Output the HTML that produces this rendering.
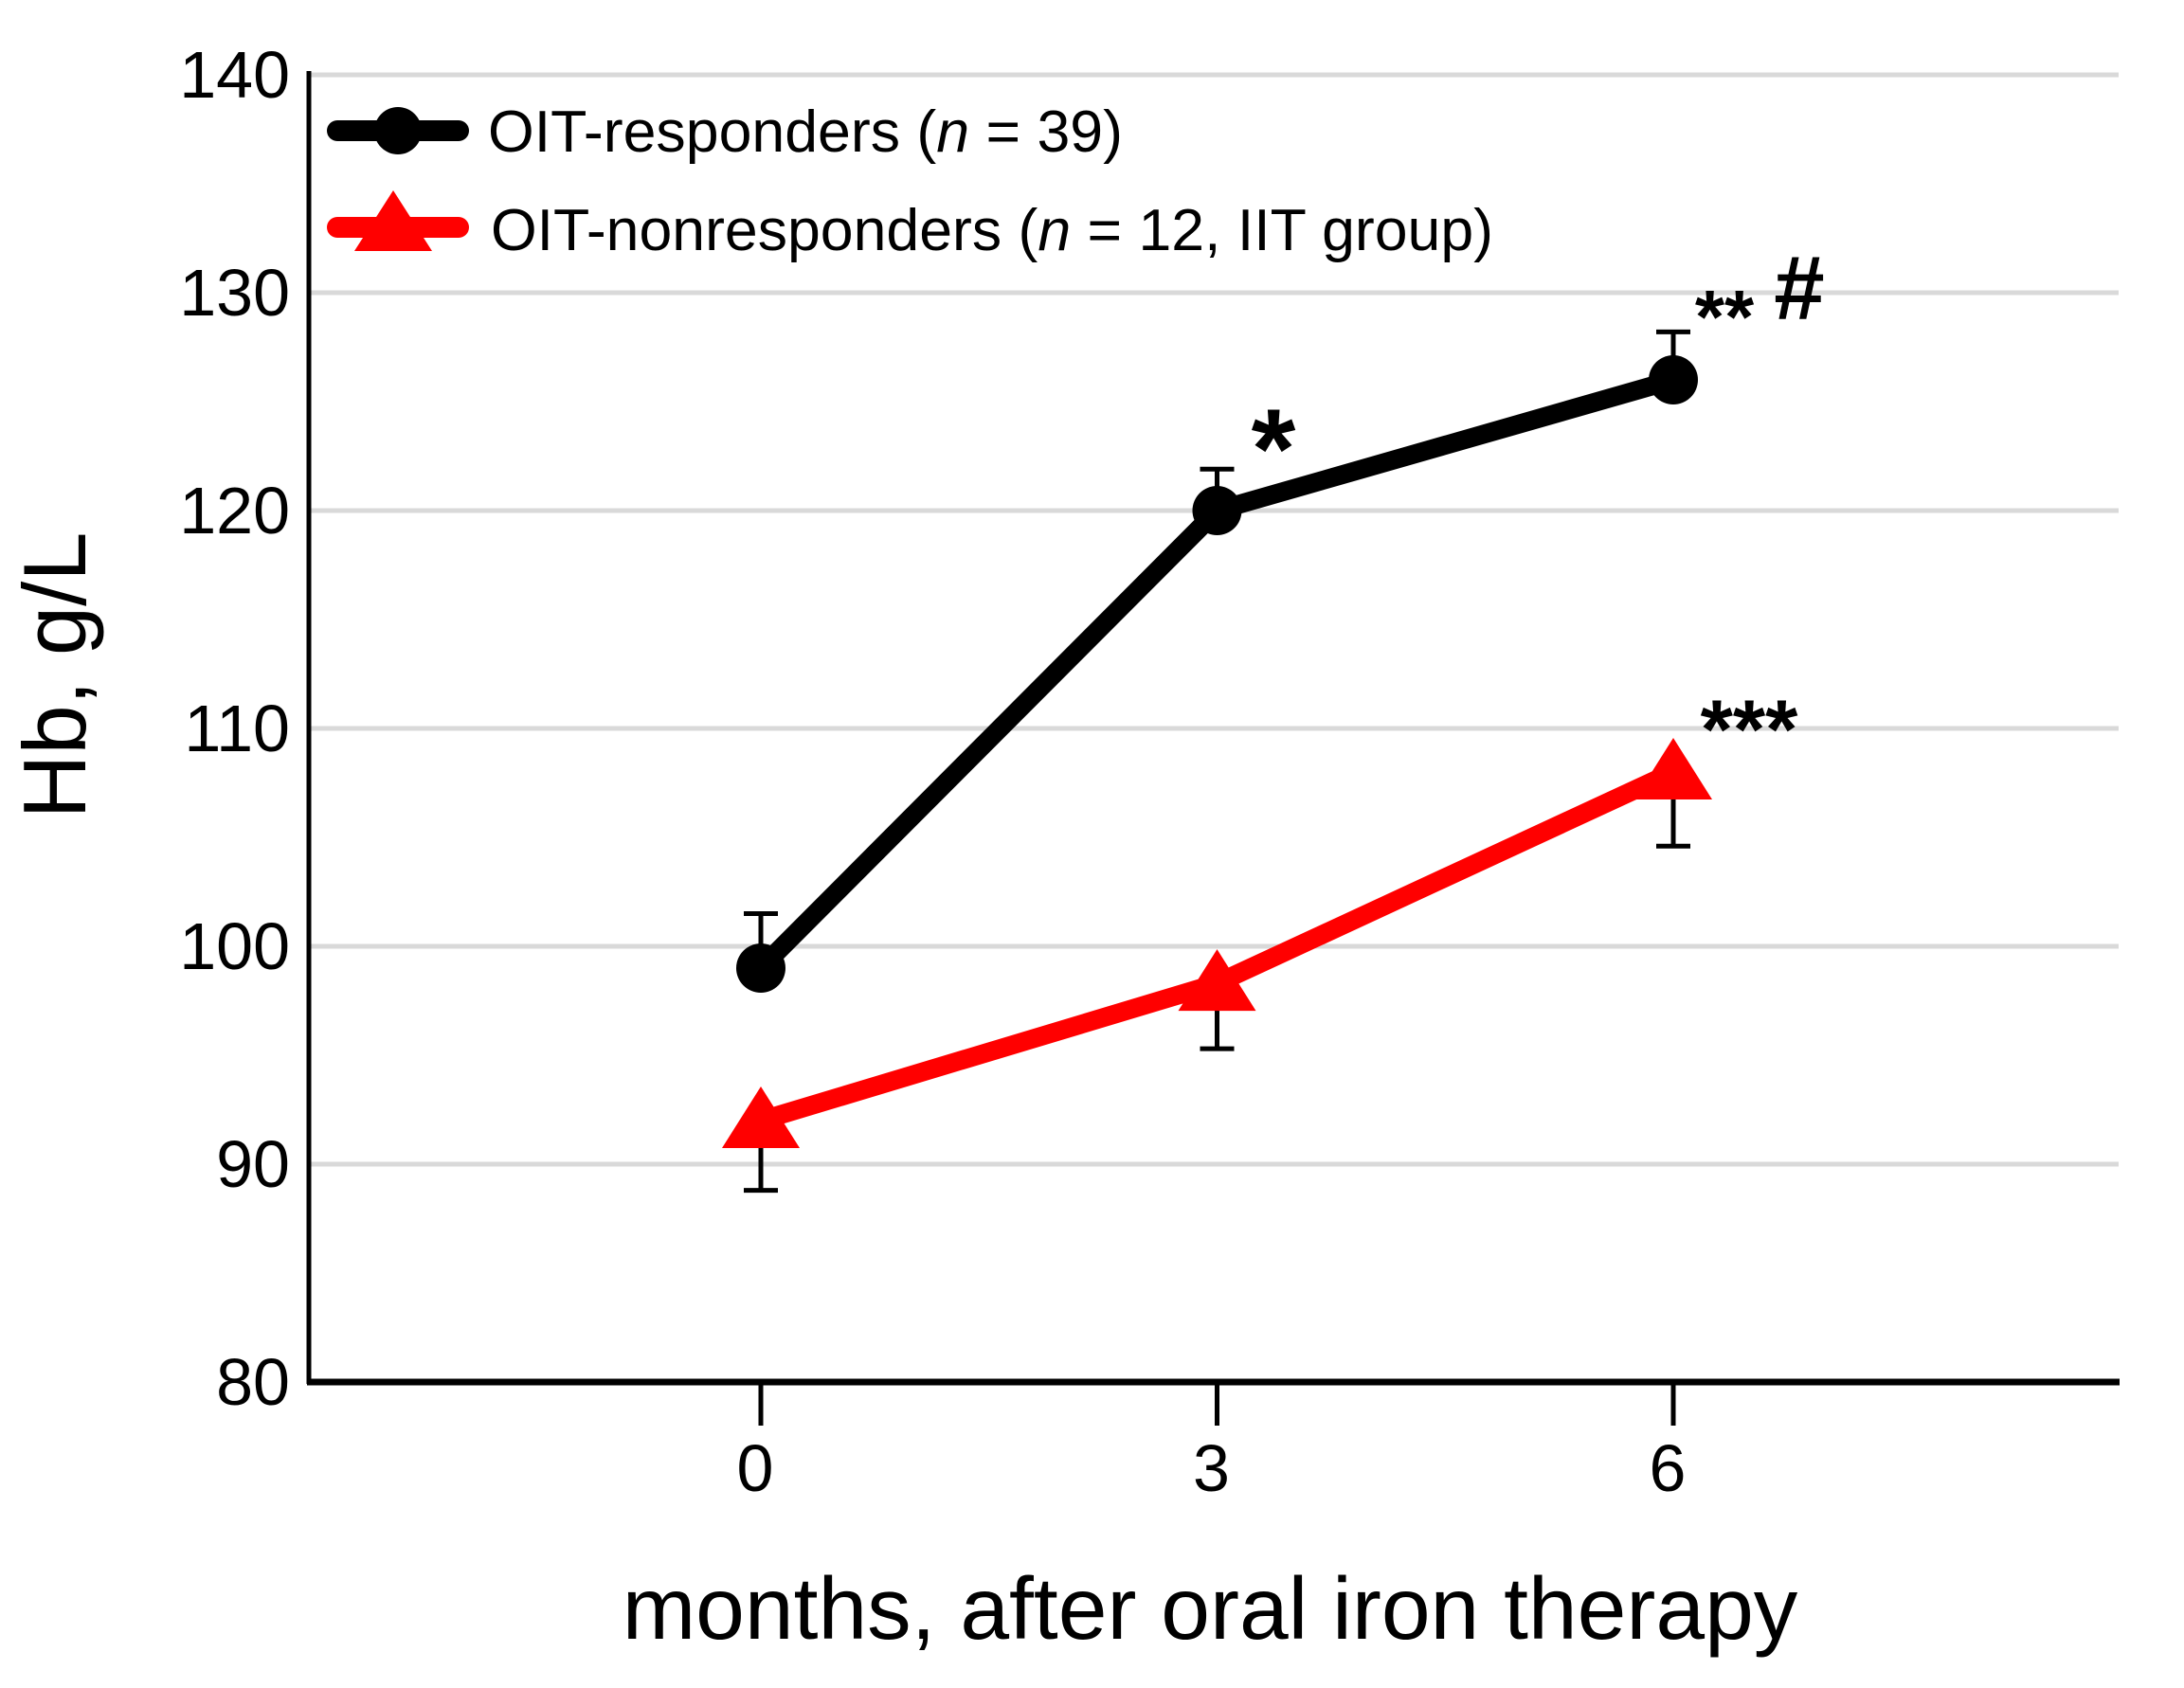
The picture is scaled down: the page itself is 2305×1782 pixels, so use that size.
<!DOCTYPE html>
<html><head><meta charset="utf-8"><style>
html,body{margin:0;padding:0;background:#fff;}
svg{display:block;font-family:"Liberation Sans",Arial,sans-serif;}
</style></head><body>
<svg id="chart" width="2305" height="1782" viewBox="0 0 2305 1782" xmlns="http://www.w3.org/2000/svg">
<g id="grid"></g>
<g id="axes"></g>
<g id="series"></g>
<g id="legend">
  <line x1="356" y1="138" x2="484" y2="138" stroke="#000" stroke-width="22" stroke-linecap="round"/>
  <circle cx="420" cy="138" r="25" fill="#000"/>
  <text x="515" y="160" font-size="62" textLength="670" lengthAdjust="spacingAndGlyphs">OIT-responders (<tspan font-style="italic">n</tspan> = 39)</text>
  <line x1="356" y1="240" x2="484" y2="240" stroke="#f00" stroke-width="22" stroke-linecap="round"/>
  <polygon points="415,201 456,265 374,265" fill="#f00"/>
  <text x="518" y="264" font-size="62" textLength="1058" lengthAdjust="spacingAndGlyphs">OIT-nonresponders (<tspan font-style="italic">n</tspan> = 12, IIT group)</text>
</g>
<text x="90" y="713" font-size="94" text-anchor="middle" transform="rotate(-90 90 713)">Hb, g/L</text>
<text x="1277" y="1730" font-size="93" text-anchor="middle">months, after oral iron therapy</text>
<text x="1344" y="515" font-size="120" font-weight="bold" text-anchor="middle">*</text>
<text x="1820" y="362" font-size="80" font-weight="bold" text-anchor="middle">**</text>
<text x="1899" y="337" font-size="96" font-weight="bold" text-anchor="middle">#</text>
<text x="1846" y="800" font-size="88" font-weight="bold" text-anchor="middle">***</text>
</svg>
<script>
const months = [0, 3, 6];
const yTicks = [80, 90, 100, 110, 120, 130, 140];
const respondersMean = [99, 120, 126];
const respondersErrUp = [101.5, 121.9, 128.2];
const nonrespMean = [92, 98.3, 108];
const nonrespErrDown = [88.8, 95.3, 104.6];

const NS = 'http://www.w3.org/2000/svg';
const xs = m => 803 + (m / 3) * 481.5;
const ys = v => 1459 - (v - 80) * 23;
function mk(tag, attrs, parent) {
  const e = document.createElementNS(NS, tag);
  for (const k in attrs) e.setAttribute(k, attrs[k]);
  parent.appendChild(e);
  return e;
}
const grid = document.getElementById('grid');
const axes = document.getElementById('axes');
const series = document.getElementById('series');

yTicks.forEach(t => {
  if (t > 80) {
    const g = mk('line', {x1: 326, x2: 2236, y1: ys(t), y2: ys(t), stroke: '#d9d9d9', 'stroke-width': 5}, grid);
    
    
  }
  const lb = mk('text', {x: 306, y: ys(t) + 24, 'font-size': 70, 'text-anchor': 'end'}, axes);
  lb.textContent = t;
  
  
});
const ya = mk('line', {x1: 326, x2: 326, y1: 75, y2: 1461, stroke: '#000', 'stroke-width': 5}, axes);


const xa = mk('line', {x1: 324, x2: 2237, y1: 1459, y2: 1459, stroke: '#000', 'stroke-width': 7}, axes);


months.forEach(m => {
  const tk = mk('line', {x1: xs(m), x2: xs(m), y1: 1459, y2: 1505, stroke: '#000', 'stroke-width': 5}, axes);
  
  
  const lb = mk('text', {x: xs(m) - 6, y: 1574, 'font-size': 70, 'text-anchor': 'middle'}, axes);
  lb.textContent = m;
  
  
});

function errBar(x, y1, y2, name) {
  const g = mk('g', {stroke: '#000', 'stroke-width': 5}, series);
  
  
  mk('line', {x1: x, x2: x, y1: y1, y2: y2}, g);
  mk('line', {x1: x - 18, x2: x + 18, y1: y2, y2: y2}, g);
}
months.forEach((m, i) => {
  errBar(xs(m), ys(respondersMean[i]), ys(respondersErrUp[i]), 'responders-error-' + m);
  errBar(xs(m), ys(nonrespMean[i]), ys(nonrespErrDown[i]), 'nonresponders-error-' + m);
});
const rl = mk('polyline', {points: months.map((m, i) => xs(m) + ',' + ys(nonrespMean[i])).join(' '), fill: 'none', stroke: '#f00', 'stroke-width': 20, 'stroke-linejoin': 'round'}, series);


months.forEach((m, i) => {
  const x = xs(m), y = ys(nonrespMean[i]);
  const t = mk('polygon', {points: `${x},${y - 36} ${x + 41},${y + 29} ${x - 41},${y + 29}`, fill: '#f00'}, series);
  
  
});
const bl = mk('polyline', {points: months.map((m, i) => xs(m) + ',' + ys(respondersMean[i])).join(' '), fill: 'none', stroke: '#000', 'stroke-width': 20, 'stroke-linejoin': 'round'}, series);


months.forEach((m, i) => {
  const c = mk('circle', {cx: xs(m), cy: ys(respondersMean[i]), r: 26, fill: '#000'}, series);
  
  
});
</script>
</body></html>
